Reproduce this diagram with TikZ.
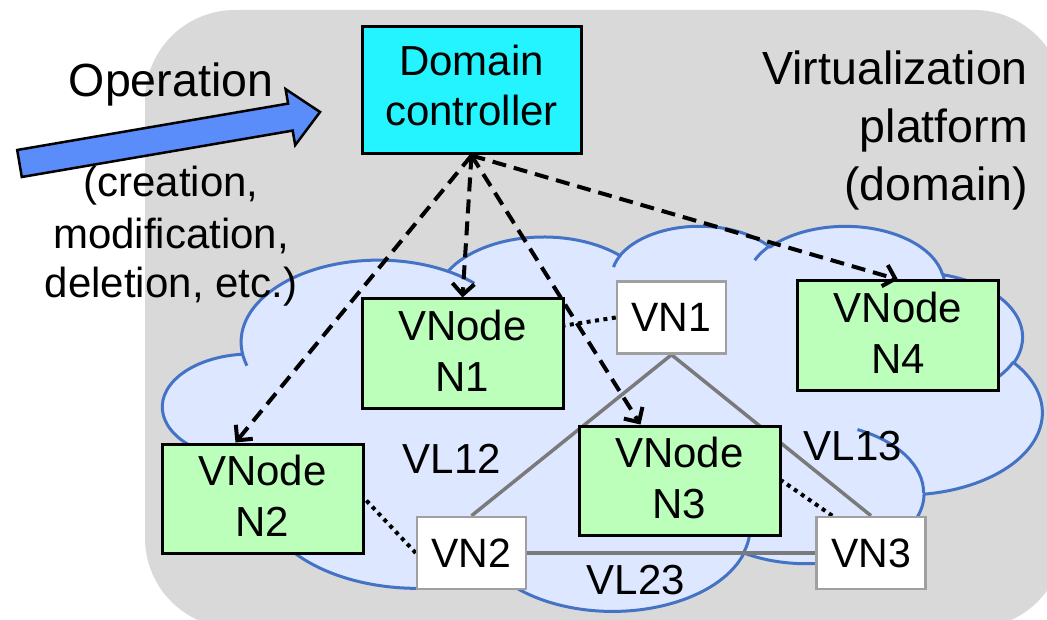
\documentclass[tikz,border=0pt]{standalone}
\usepackage{fontspec}
\setmainfont{Liberation Sans}
\usetikzlibrary{arrows.meta,calc}
\pgfdeclarelayer{bga}
\pgfdeclarelayer{bgb}
\pgfsetlayers{bga,bgb,main}

\definecolor{bggray}{HTML}{D9D9D9}
\definecolor{cloudfill}{HTML}{DDE7FF}
\definecolor{cloudline}{HTML}{4472C4}
\definecolor{dccyan}{HTML}{24F4FF}
\definecolor{vgreen}{HTML}{BBFFBB}
\definecolor{linkgray}{HTML}{7A7A7A}
\definecolor{vnborder}{HTML}{A0A0A0}
\definecolor{oparrow}{HTML}{5B8DFA}

% convert DrawingML (visual) arc angles into parametric TikZ angles
\newcommand\cldef[5]{%
  \pgfmathsetmacro\cltmpa{atan2((#2)*sin(#4),(#3)*cos(#4))}%
  \pgfmathsetmacro\cltmpb{atan2((#2)*sin((#4)+(#5)),(#3)*cos((#4)+(#5)))}%
  \pgfmathsetmacro\cltmpd{\cltmpb-\cltmpa}%
  \pgfmathsetmacro\cltmpd{\cltmpd+((#5)>0)*(\cltmpd<0)*360-((#5)<0)*(\cltmpd>0)*360}%
  \expandafter\xdef\csname cl#1s\endcsname{\cltmpa}%
  \expandafter\xdef\csname cl#1d\endcsname{\cltmpd}%
}
\cldef{a}{67.53}{91.90}{-190.4875}{123.7805}
\cldef{b}{53.33}{72.67}{-144.1024}{89.9452}
\cldef{c}{43.65}{59.45}{-145.8079}{99.7230}
\cldef{d}{48.57}{65.95}{-130.9861}{117.2417}
\cldef{e}{53.33}{72.73}{-78.7089}{109.0269}
\cldef{f}{67.75}{92.20}{-46.2673}{130.2690}
\cldef{g}{57.85}{78.67}{0.6250}{114.0333}
\cldef{h}{67.52}{92.15}{22.4516}{115.1726}
\cldef{i}{77.20}{105.43}{66.2426}{75.7110}
\cldef{j}{43.60}{59.18}{-274.9421}{146.7356}
\cldef{k}{43.45}{59.45}{-246.8285}{152.5189}
\cldef{ta}{43.45}{59.45}{86.7420}{26.4295}
\cldef{tb}{43.60}{59.18}{73.6105}{11.4475}
\cldef{tc}{67.52}{92.15}{137.6242}{14.0811}
\cldef{td}{67.52}{92.15}{6.4533}{15.9984}
\cldef{te}{57.85}{78.67}{-70.2924}{70.9174}
\cldef{tf}{53.33}{72.73}{30.3180}{27.7515}
\cldef{tg}{48.57}{65.95}{-13.7443}{14.8589}
\cldef{th}{48.57}{65.95}{-149.1815}{18.1954}
\cldef{ti}{43.65}{59.45}{-163.4943}{17.6864}
\cldef{tj}{67.53}{91.90}{-66.7070}{12.3194}
\cldef{tk}{67.53}{91.90}{157.6544}{11.8582}

\begin{document}
\begin{tikzpicture}[x=1pt,y=-1pt,
  txt/.style={font=\fontsize{42}{51}\selectfont, inner sep=0pt},
  bigtxt/.style={font=\fontsize{46.5}{55}\selectfont, inner sep=0pt},
  vnodebox/.style={draw=black, line width=3pt, fill=vgreen, minimum width=201pt,
    minimum height=109pt, inner sep=0pt, align=center, font=\fontsize{42}{51}\selectfont},
  vnbox/.style={draw=vnborder, line width=2.5pt, fill=white, minimum width=109pt,
    minimum height=72pt, inner sep=0pt, font=\fontsize{41}{49}\selectfont},
  ctrlbox/.style={draw=black, line width=3pt, fill=dccyan, minimum width=219pt,
    minimum height=127pt, inner sep=0pt, align=center, font=\fontsize{42}{50}\selectfont},
  vlink/.style={draw=linkgray, line width=3.5pt},
  attach/.style={draw=black, line width=4pt, dash pattern=on 4pt off 4.5pt},
  ctrlarrow/.style={draw=black, line width=4pt, dash pattern=on 14pt off 8pt,
    -{Straight Barb[length=11pt,width=22pt]}},
]
\useasboundingbox (0,0) rectangle (1047,620);

\begin{pgfonlayer}{bga}
  \fill[white] (0,0) rectangle (1047,620);
  \fill[bggray, rounded corners=90pt] (145,10) rectangle (1064,628);
  \begin{scope}[shift={(163,225)}, x=2.03472pt, y=-0.891204pt]
    \path[fill=cloudfill, draw=cloudline, line width=3pt, line join=round]
      (39.00,143.70)
      arc[start angle=\clas, delta angle=\clad, x radius=67.53, y radius=91.90]
      arc[start angle=\clbs, delta angle=\clbd, x radius=53.33, y radius=72.67]
      arc[start angle=\clcs, delta angle=\clcd, x radius=43.65, y radius=59.45]
      arc[start angle=\clds, delta angle=\cldd, x radius=48.57, y radius=65.95]
      arc[start angle=\cles, delta angle=\cled, x radius=53.33, y radius=72.73]
      arc[start angle=\clfs, delta angle=\clfd, x radius=67.75, y radius=92.20]
      arc[start angle=\clgs, delta angle=\clgd, x radius=57.85, y radius=78.67]
      arc[start angle=\clhs, delta angle=\clhd, x radius=67.52, y radius=92.15]
      arc[start angle=\clis, delta angle=\clid, x radius=77.20, y radius=105.43]
      arc[start angle=\cljs, delta angle=\cljd, x radius=43.60, y radius=59.18]
      arc[start angle=\clks, delta angle=\clkd, x radius=43.45, y radius=59.45]
      -- cycle;
    \draw[cloudline, line width=3pt]
      (46.93,261.77) arc[start angle=\cltas, delta angle=\cltad, x radius=43.45, y radius=59.45]
      (69.28,348.99) arc[start angle=\cltbs, delta angle=\cltbd, x radius=43.60, y radius=59.18]
      (164.78,390.90) arc[start angle=\cltcs, delta angle=\cltcd, x radius=67.52, y radius=92.15]
      (288.27,347.51) arc[start angle=\cltds, delta angle=\cltdd, x radius=67.52, y radius=92.15]
      (341.29,229.54) arc[start angle=\cltes, delta angle=\clted, x radius=57.85, y radius=78.67]
      (417.98,153.54) arc[start angle=\cltfs, delta angle=\cltfd, x radius=53.33, y radius=72.73]
      (383.24,54.26) arc[start angle=\cltgs, delta angle=\cltgd, x radius=48.57, y radius=65.95]
      (290.78,39.52) arc[start angle=\clths, delta angle=\clthd, x radius=48.57, y radius=65.95]
      (221.41,47.20) arc[start angle=\cltis, delta angle=\cltid, x radius=43.65, y radius=59.45]
      (140.00,51.92) arc[start angle=\cltjs, delta angle=\cltjd, x radius=67.53, y radius=91.90]
      (41.27,157.89) arc[start angle=\cltks, delta angle=\cltkd, x radius=67.53, y radius=91.90];
  \end{scope}
\end{pgfonlayer}

% operation arrow
\filldraw[fill=oparrow, draw=black, line width=2.5pt, line join=miter]
  (17.2,150.0) -- (288.1,103.6) -- (285.6,89.1) -- (320,112) -- (295.2,145.1)
  -- (292.7,130.6) -- (21.8,177.0) -- cycle;

% texts
\node[bigtxt, anchor=base] (op) at (171,97) {Operation};
\node[txt, anchor=base] (opa) at (171,197) {(creation,};
\node[txt, anchor=base] (opb) at (171,249) {modification,};
\node[txt, anchor=base] (opc) at (171,298) {deletion, etc.)};
\node[bigtxt, anchor=base east] (vpa) at (1028,85) {Virtualization};
\node[bigtxt, anchor=base east] (vpb) at (1028,143) {platform};
\node[bigtxt, anchor=base east] (vpc) at (1028,201) {(domain)};

% boxes
\node[ctrlbox] (DC) at (471.5,90.5) {Domain\\controller\rule[-11pt]{0pt}{11pt}};
\node[vnodebox] (N1) at (462.5,353.5) {VNode\\N1\rule[-6pt]{0pt}{6pt}};
\node[vnodebox] (N2) at (262.5,498.5) {VNode\\N2\rule[-6pt]{0pt}{6pt}};
\node[vnodebox] (N3) at (679.5,480.5) {VNode\\N3\rule[-6pt]{0pt}{6pt}};
\node[vnodebox] (N4) at (898,335.5) {VNode\\N4\rule[-6pt]{0pt}{6pt}};
\node[vnbox] (VN1) at (671.5,317.5) {VN1};
\node[vnbox] (VN2) at (471.5,553) {VN2};
\node[vnbox] (VN3) at (871,553) {VN3};

\node[txt, anchor=base] (VL12) at (452,473) {VL12};
\node[txt, anchor=base] (VL13) at (853,460) {VL13};
\node[txt, anchor=base] (VL23) at (636,594) {VL23};

% virtual links and attachments (behind boxes)
\begin{pgfonlayer}{bgb}
  \draw[vlink] (VN1.south) -- (VN2.north);
  \draw[vlink] (VN1.south) -- (VN3.north);
  \draw[vlink] (VN2.east) -- (VN3.west);
  \draw[attach] (VN1.west) -- ($(N1.north east)!0.25!(N1.south east)$);
  \draw[attach] (VN2.west) -- (N2.east);
  \draw[attach] ($(VN3.north west)+(17,0)$) -- (N3.east);
\end{pgfonlayer}

% control arrows
\draw[ctrlarrow] (DC.south) -- ($(N2.north west)+(75,0)$);
\draw[ctrlarrow] (DC.south) -- (N1.north);
\draw[ctrlarrow] (DC.south) -- ($(N3.north west)+(63,0)$);
\draw[ctrlarrow] (DC.south) -- (N4.north);
\end{tikzpicture}
\end{document}
